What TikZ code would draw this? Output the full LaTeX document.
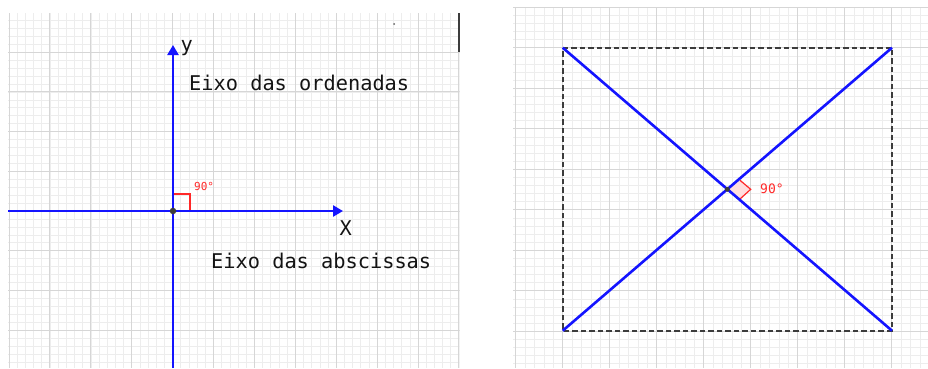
\documentclass[tikz,border=0pt]{standalone}
\usepackage{fontspec}
\setmonofont{DejaVu Sans Mono}
\usetikzlibrary{arrows.meta}
\definecolor{axisblue}{RGB}{20,20,255}
\definecolor{majgrid}{RGB}{214,214,214}
\definecolor{mingrid}{RGB}{237,237,237}
\definecolor{angred}{RGB}{255,40,40}
\definecolor{angfill}{RGB}{255,222,222}
\definecolor{ptgray}{RGB}{60,60,60}
\definecolor{txt}{RGB}{20,20,20}
\begin{document}
\begin{tikzpicture}[x=1pt,y=-1pt,
  minorline/.style={draw=mingrid,line width=0.6pt},
  majorline/.style={draw=majgrid,line width=1pt},
  axisline/.style={draw=axisblue,line width=2.4pt,-{Triangle[length=10pt,width=11pt]}},
  diag/.style={draw=axisblue,line width=2.6pt},
  dashbox/.style={draw=ptgray,line width=2pt,dash pattern=on 5.5pt off 3pt},
  biglabel/.style={inner sep=0pt,text=txt,font=\ttfamily\fontsize{20.3pt}{24pt}\selectfont},
  anglabel/.style={inner sep=0pt,text=angred,font=\ttfamily\fontsize{#1}{14pt}\selectfont},
  pt/.style={circle,fill=ptgray,inner sep=0pt,minimum size=#1}]
\useasboundingbox (0,0) rectangle (928,368);
\fill[white] (0,0) rectangle (928,368);
% ---------- left panel grid ----------
\begin{scope}
\clip (8,13) rectangle (459.5,368);
\foreach \i in {0,...,56} \draw[minorline] ({9+\i*8.18},13) -- ({9+\i*8.18},368);
\foreach \j in {-25,...,20} \draw[minorline] (8,{211+\j*7.94}) -- (460,{211+\j*7.94});
\foreach \i in {0,...,11} \draw[majorline] ({9+\i*40.9},13) -- ({9+\i*40.9},368);
\foreach \j in {-5,...,4} \draw[majorline] (8,{211+\j*39.7}) -- (460,{211+\j*39.7});
\end{scope}
\draw[ptgray,line width=1.6pt] (459,13) -- (459,52);
\fill[ptgray!80] (394,24) circle (1pt);
% ---------- right panel grid ----------
\begin{scope}
\clip (513,7) rectangle (928,368);
\foreach \i in {-6,...,40} \draw[minorline] ({562.7+\i*9.4},7) -- ({562.7+\i*9.4},368);
\foreach \j in {-5,...,40} \draw[minorline] (513,{47.7+\j*8.1}) -- (928,{47.7+\j*8.1});
\foreach \i in {-1,...,8} \draw[majorline] ({562.7+\i*47},7) -- ({562.7+\i*47},368);
\foreach \j in {-1,...,8} \draw[majorline] (513,{47.7+\j*40.5}) -- (928,{47.7+\j*40.5});
\end{scope}
% ---------- left panel: axes ----------
\coordinate (O) at (173,211);
\coordinate (xstart) at (8,211);
\coordinate (xend) at (343,211);
\coordinate (ystart) at (173,368);
\coordinate (yend) at (173,45);
\draw[angred,line width=1.5pt] (173,194) rectangle (190,211);
\draw[axisline] (xstart) -- (xend);
\draw[axisline] (ystart) -- (yend);
\node[pt=6.5pt] (Odot) at (O) {};
\node[anglabel=11pt,anchor=base west] (ang1) at (194,190) {90°};
\node[biglabel,anchor=base west] (ylab) at (180.5,51) {y};
\node[biglabel,anchor=base west] (xlab) at (339.5,235) {X};
\node[biglabel,anchor=base west] (ord) at (189,90.7) {Eixo das ordenadas};
\node[biglabel,anchor=base west] (abs) at (211,268) {Eixo das abscissas};
% ---------- right panel: square and diagonals ----------
\coordinate (A) at (562.7,47.7);
\coordinate (B) at (892,47.7);
\coordinate (C) at (892,330.7);
\coordinate (D) at (562.7,330.7);
\coordinate (M) at (727.3,189.3);
\draw[dashbox] (A) -- (B) -- (C) -- (D) -- cycle;
\filldraw[fill=angfill,draw=none] (M) -- (740,180.3) -- (750.7,189.3) -- (740,199) -- cycle;
\draw[angred,line width=1.2pt] (740,180.3) -- (750.7,189.3) -- (740,199);
\draw[diag] (A) -- (C);
\draw[diag] (D) -- (B);
\node[pt=5pt] (Mdot) at (M) {};
\node[anglabel=13pt,anchor=base west] (ang2) at (760,193.5) {90°};
\end{tikzpicture}
\end{document}
